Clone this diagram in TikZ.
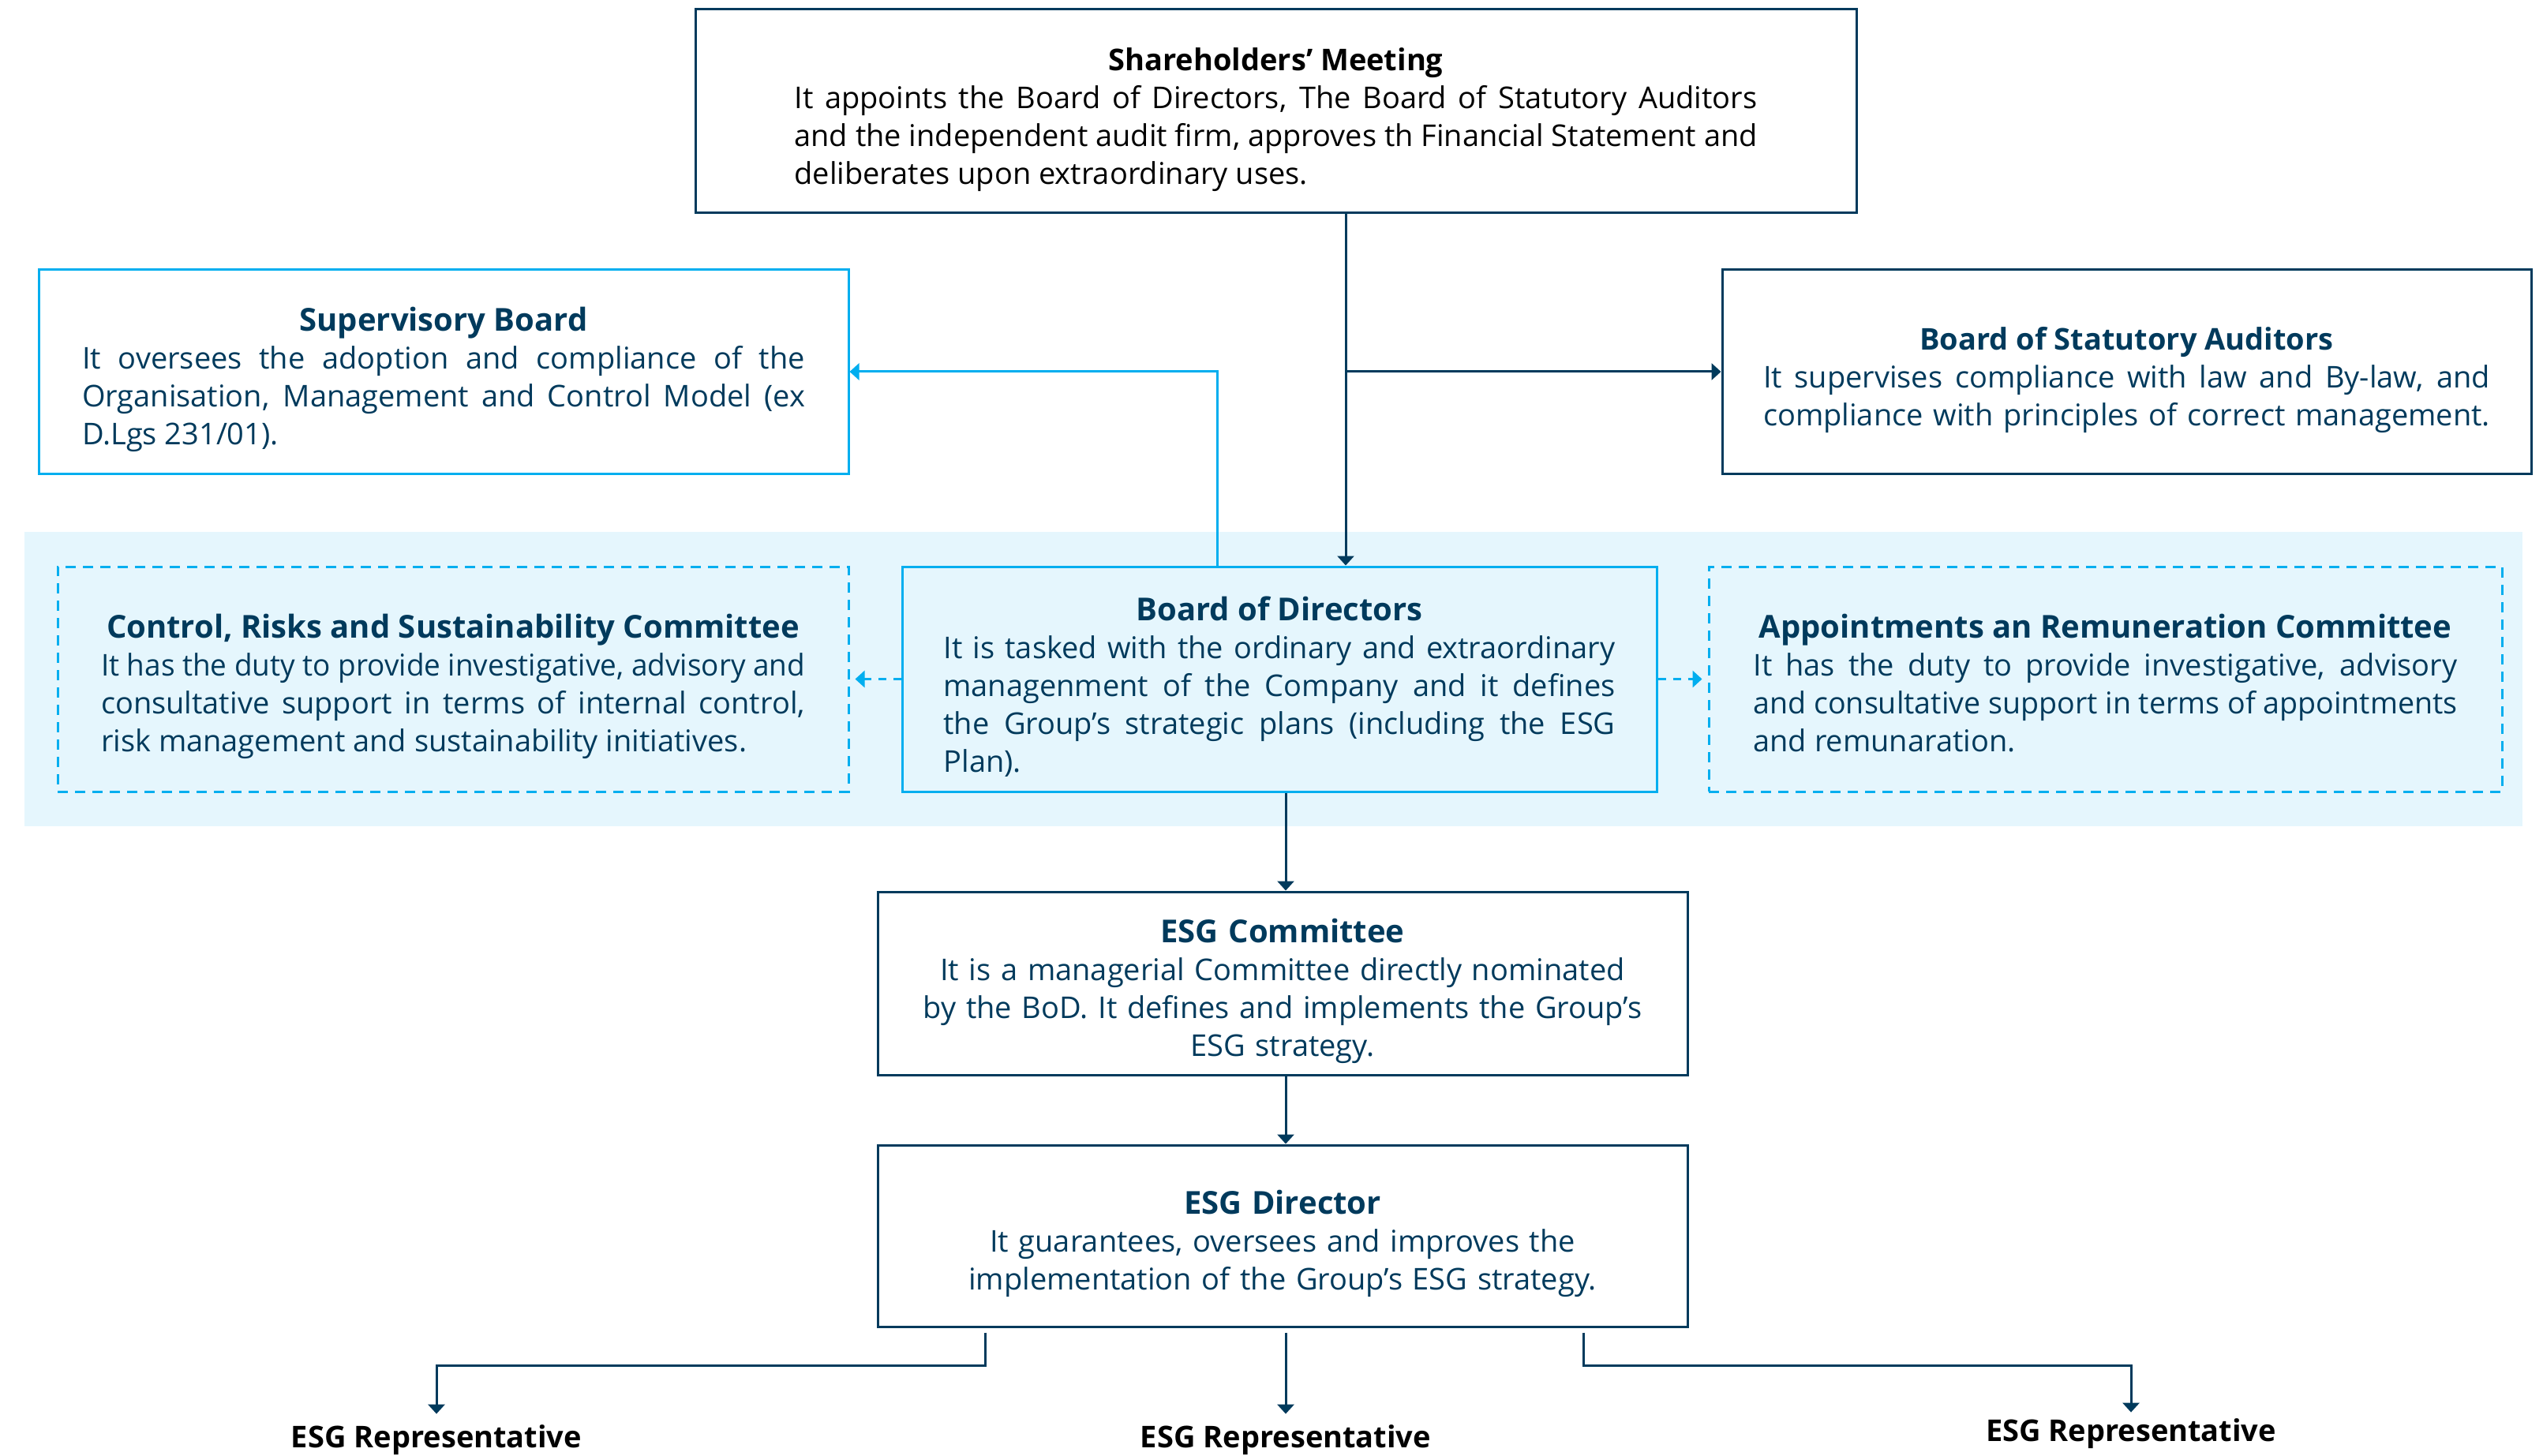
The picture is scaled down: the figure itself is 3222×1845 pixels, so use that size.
\documentclass[tikz,border=0pt]{standalone}
\usepackage{fontspec}
\usepackage{graphicx}
\setmainfont{Open Sans}
\usetikzlibrary{arrows.meta,calc}
\definecolor{navy}{HTML}{003A5C}
\definecolor{sky}{HTML}{00AEEF}
\definecolor{bandfill}{HTML}{E5F6FD}

% one full-width line: spaces stretched when short, glyphs condensed when long
\newsavebox\fitbox
\newcommand\fitline[1]{\sbox\fitbox{#1}%
  \ifdim\wd\fitbox>\hsize\resizebox{\hsize}{\height}{#1}%
  \else\makebox[\hsize][s]{#1}\fi\par}
% centred bold heading line of a box
\newcommand\ttl[2][20pt]{{\centering\bfseries\fontsize{#1}{24pt}\selectfont
  \rule{0pt}{25pt}#2\par}}
% descender depth for a closing line without descenders
\newcommand\dstrut{\rule[-4.6pt]{0pt}{1pt}}

\begin{document}
\begin{tikzpicture}[x=0.5pt,y=-0.5pt,
  txt/.style={font=\fontsize{19pt}{24pt}\selectfont,
    execute at begin node={\setlength\parindent{0pt}}},
  box/.style={txt, line width=1.5pt, inner ysep=0pt, text=navy},
  solidnavy/.style={box, draw=navy},
  solidsky/.style={box, draw=sky},
  dashsky/.style={box, draw=sky, dash pattern=on 6.5pt off 4.5pt},
  geom/.style n args={3}{text width=#1, inner xsep=#2, minimum height=#3},
  tip/.style={-{Triangle[length=6pt,width=10.5pt]}},
  navyline/.style={draw=navy, line width=1.5pt},
  skyline/.style={draw=sky, line width=1.5pt},
  rep/.style={font=\fontsize{19pt}{24pt}\selectfont\bfseries, text=black,
    anchor=base, text height=13.5pt, text depth=0pt, inner xsep=0pt, inner ysep=7.5pt},
]
\useasboundingbox (0,0) rectangle (3222,1845);

% light band behind the board-level row
\fill[bandfill] (31,674) rectangle (3196,1047);

% top row
\node[solidnavy, text=black, align=justify, geom={610pt}{62.75pt}{129pt}] (sm) at (1616.5,141)
  {\ttl[19pt]{Shareholders’ Meeting}
   \fitline{It appoints the Board of Directors, The Board of Statutory Auditors}
   \fitline{and the independent audit firm, approves th Financial Statement and}
   deliberates upon extraordinary uses.};

\node[solidsky, align=justify, geom={458pt}{27.5pt}{129pt}] (sup) at (562,471)
  {\ttl{Supervisory Board}
   \fitline{It oversees the adoption and compliance of the}
   \fitline{Organisation, Management and Control Model (ex}
   D.Lgs 231/01).};

\node[solidnavy, align=justify, geom={460.5pt}{26pt}{129pt}] (bsa) at (2694.5,471)
  {\ttl[19pt]{Board of Statutory Auditors}
   \fitline{It supervises compliance with law and By-law, and}
   \fitline{compliance with principles of correct management.}};

% board row
\node[dashsky, align=justify, geom={446pt}{27.5pt}{142.5pt}] (crs) at (574,860.5)
  {\ttl{Control, Risks and Sustainability Committee}
   \fitline{It has the duty to provide investigative, advisory and}
   \fitline{consultative support in terms of internal control,}
   risk management and sustainability initiatives.};

\node[solidsky, fill=bandfill, align=justify, geom={425.5pt}{26.25pt}{142.5pt}] (bod) at (1621,860.5)
  {\ttl{Board of Directors}
   \fitline{It is tasked with the ordinary and extraordinary}
   \fitline{managenment of the Company and it defines}
   \fitline{the Group’s strategic plans (including the ESG}
   Plan).};

\node[dashsky, align=justify, geom={446pt}{28.25pt}{142.5pt}] (arc) at (2667.5,860.5)
  {\ttl{Appointments an Remuneration Committee}
   \fitline{It has the duty to provide investigative, advisory}
   \fitline{and consultative support in terms of appointments}
   and remunaration.\dstrut};

% management chain
\node[solidnavy, align=center, geom={460pt}{26.5pt}{116pt}] (esgc) at (1625,1246)
  {\ttl{ESG Committee}
   It is a managerial Committee directly nominated\\
   by the BoD. It defines and implements the Group’s\\
   ESG strategy.};

\node[solidnavy, align=center, geom={460pt}{26.5pt}{115pt}] (esgd) at (1625,1566)
  {\ttl{ESG Director}
   It guarantees, oversees and improves the\\
   implementation of the Group’s ESG strategy.};

\node[rep] (rep1) at (553,1834) {ESG Representative};
\node[rep] (rep2) at (1629,1834) {ESG Representative};
\node[rep, inner ysep=4.5pt] (rep3) at (2700,1826) {ESG Representative};

% junction points
\coordinate (trunk) at (1705,471);
\coordinate (skyx) at (1542,471);
\coordinate (b1) at (1248,1730);
\coordinate (b3) at (2006,1730);

% connectors
\draw[navyline, tip] (sm.south -| trunk) -- (bod.north -| trunk);
\draw[navyline, tip] (trunk) -- (bsa.west |- trunk);
\draw[skyline, tip] (bod.north -| skyx) -- (skyx) -- (sup.east |- skyx);
\draw[skyline, tip, dash pattern=on 5pt off 4.5pt, shorten >=3.5pt] (bod.west) -- (crs.east);
\draw[skyline, tip, dash pattern=on 5pt off 4.5pt, shorten >=3.5pt] (bod.east) -- (arc.west);
\draw[navyline, tip] (bod.south -| rep2.north) -- (esgc.north -| rep2.north);
\draw[navyline, tip] (esgc.south -| rep2.north) -- (esgd.north -| rep2.north);
\draw[navyline, tip, shorten <=3pt] (esgd.south -| b1) -- (b1) -| (rep1.north);
\draw[navyline, tip, shorten <=3pt] (esgd.south -| rep2.north) -- (rep2.north);
\draw[navyline, tip, shorten <=3pt] (esgd.south -| b3) -- (b3) -| (rep3.north);
\end{tikzpicture}
\end{document}
